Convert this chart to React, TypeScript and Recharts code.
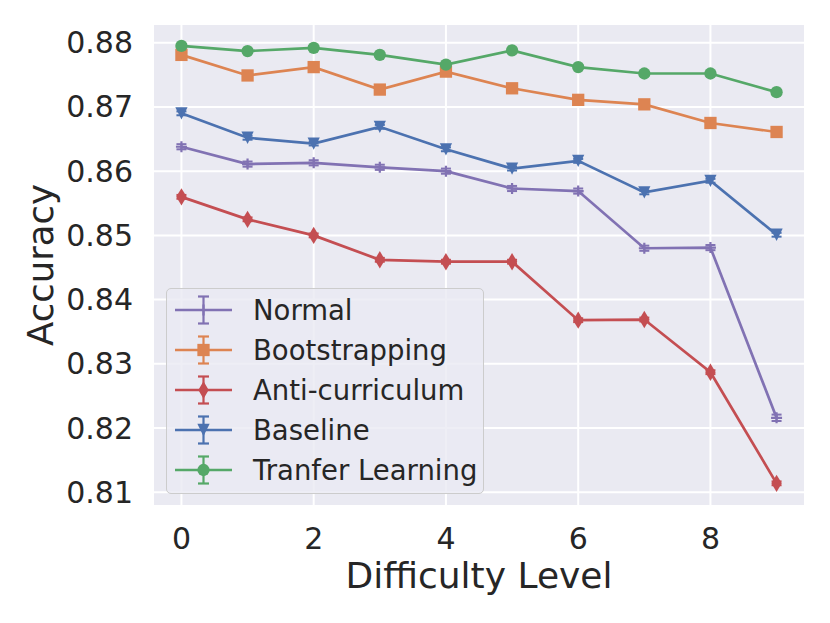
import React from 'react';
import { LineChart, Line, XAxis, YAxis, CartesianGrid, ErrorBar, Legend, Label } from 'recharts';

const levels = [0, 1, 2, 3, 4, 5, 6, 7, 8, 9];
const normal = [0.8638, 0.8611, 0.8613, 0.8606, 0.86, 0.8573, 0.8569, 0.848, 0.8481, 0.8216];
const bootstrapping = [0.8781, 0.8749, 0.8762, 0.8727, 0.8755, 0.8729, 0.8711, 0.8704, 0.8675, 0.8661];
const antiCurriculum = [0.856, 0.8525, 0.85, 0.8462, 0.8459, 0.8459, 0.8368, 0.8369, 0.8287, 0.8114];
const baseline = [0.869, 0.8652, 0.8643, 0.8669, 0.8634, 0.8604, 0.8616, 0.8567, 0.8585, 0.8501];
const transfer = [0.8795, 0.8787, 0.8792, 0.8781, 0.8766, 0.8788, 0.8762, 0.8752, 0.8752, 0.8723];
const errNormal = [0.0004, 0.0004, 0.0004, 0.0004, 0.0004, 0.0004, 0.0004, 0.0004, 0.0004, 0.0005];
const errOther = [0.0003, 0.0003, 0.0003, 0.0003, 0.0003, 0.0003, 0.0003, 0.0003, 0.0003, 0.0003];

const xTicks = [0, 2, 4, 6, 8];
const yTicks = [0.81, 0.82, 0.83, 0.84, 0.85, 0.86, 0.87, 0.88];

const seriesNames = ['Normal', 'Bootstrapping', 'Anti-curriculum', 'Baseline', 'Tranfer Learning'];
const seriesKeys = ['normal', 'bootstrapping', 'anti', 'baseline', 'transfer'];
const seriesColors = ['#8172B3', '#DD8452', '#C44E52', '#4C72B0', '#55A868'];
const seriesMarkers = ['plus', 'square', 'diamond', 'triangle', 'circle'];

const data = levels.map((lv, i) => ({
  level: lv,
  normal: normal[i],
  bootstrapping: bootstrapping[i],
  anti: antiCurriculum[i],
  baseline: baseline[i],
  transfer: transfer[i],
  normalErr: errNormal[i],
  bootstrappingErr: errOther[i],
  antiErr: errOther[i],
  baselineErr: errOther[i],
  transferErr: errOther[i],
}));

const FONT = '"DejaVu Sans", sans-serif';
const TEXT = '#262626';
const S = 12.3;

function Marker({ kind, cx, cy, color }: { kind: string; cx: number; cy: number; color: string }) {
  if (kind === 'plus') {
    const h = 5.5;
    return (
      <path d={`M${cx - h},${cy}H${cx + h}M${cx},${cy - h}V${cy + h}`} stroke={color} strokeWidth={2.2} fill="none" />
    );
  }
  if (kind === 'square') {
    return <rect x={cx - S / 2} y={cy - S / 2} width={S} height={S} fill={color} />;
  }
  if (kind === 'diamond') {
    const w = 0.6 * Math.SQRT2 * S / 2;
    const hh = Math.SQRT2 * S / 2;
    return <polygon points={`${cx},${cy - hh} ${cx + w},${cy} ${cx},${cy + hh} ${cx - w},${cy}`} fill={color} />;
  }
  if (kind === 'triangle') {
    const h = S / 2;
    return <polygon points={`${cx - h},${cy - h} ${cx + h},${cy - h} ${cx},${cy + h}`} fill={color} />;
  }
  return <circle cx={cx} cy={cy} r={S / 2} fill={color} />;
}

const makeDot = (kind: string, color: string, name: string) => (props: any) => {
  const { cx, cy, index } = props;
  if (cx == null || cy == null) return <g key={`${name}-${index}`} />;
  return (
    <g key={`${name}-${index}`}>
      <Marker kind={kind} cx={cx} cy={cy} color={color} />
    </g>
  );
};

const YTick = (props: any) => {
  const { y, payload } = props;
  return (
    <text x={133} y={y} textAnchor="end" dominantBaseline="central" fontFamily={FONT} fontSize={30} fill={TEXT}>
      {Number(payload.value).toFixed(2)}
    </text>
  );
};

const XTick = (props: any) => {
  const { x, payload } = props;
  return (
    <text x={x} y={549} textAnchor="middle" fontFamily={FONT} fontSize={30} fill={TEXT}>
      {payload.value}
    </text>
  );
};

const LegendContent = () => (
  <div
    style={{
      width: 318,
      height: 206,
      boxSizing: 'border-box',
      background: 'rgba(234,234,242,0.8)',
      border: '1.3px solid #cccccc',
      borderRadius: 5,
      paddingTop: 1,
      fontFamily: FONT,
    }}
  >
    {seriesNames.map((n, i) => (
      <div key={n} style={{ display: 'flex', alignItems: 'center', height: 40 }}>
        <svg width={86} height={40} style={{ display: 'block' }}>
          <line x1={8} y1={20} x2={65} y2={20} stroke={seriesColors[i]} strokeWidth={2.7} />
          <line x1={36.5} y1={6.5} x2={36.5} y2={33.5} stroke={seriesColors[i]} strokeWidth={2.2} />
          <line x1={31} y1={6.5} x2={42} y2={6.5} stroke={seriesColors[i]} strokeWidth={2.2} />
          <line x1={31} y1={33.5} x2={42} y2={33.5} stroke={seriesColors[i]} strokeWidth={2.2} />
          <Marker kind={seriesMarkers[i]} cx={36.5} cy={20} color={seriesColors[i]} />
        </svg>
        <span style={{ fontSize: 27.5, color: TEXT, whiteSpace: 'nowrap' }}>{n}</span>
      </div>
    ))}
  </div>
);

export default function App() {
  return (
    <div style={{ position: 'absolute', left: 0, top: 0, width: 830, height: 623, background: '#fff' }}>
      <LineChart width={830} height={623} data={data} margin={{ top: 24, right: 25, bottom: 0, left: 0 }}>
        <CartesianGrid fill="#EAEAF2" stroke="#ffffff" strokeWidth={2} />
        <XAxis
          dataKey="level"
          type="number"
          domain={[-0.43, 9.43]}
          ticks={xTicks}
          allowDataOverflow
          axisLine={false}
          tickLine={false}
          tickSize={0}
          height={117}
          tick={<XTick />}
          interval={0}
        >
          <Label
            content={() => (
              <text x={479} y={588} textAnchor="middle" fontFamily={FONT} fontSize={36} fill={TEXT}>
                Difficulty Level
              </text>
            )}
          />
        </XAxis>
        <YAxis
          type="number"
          domain={[0.80787, 0.88291]}
          ticks={yTicks}
          allowDataOverflow
          axisLine={false}
          tickLine={false}
          tickSize={0}
          width={153}
          tick={<YTick />}
          interval={0}
        >
          <Label
            content={() => (
              <text
                x={53}
                y={265}
                transform="rotate(-90, 53, 265)"
                textAnchor="middle"
                fontFamily={FONT}
                fontSize={35.5}
                fill={TEXT}
              >
                Accuracy
              </text>
            )}
          />
        </YAxis>
        {seriesKeys.map((k, i) => (
          <Line
            key={k}
            dataKey={k}
            name={seriesNames[i]}
            stroke={seriesColors[i]}
            strokeWidth={2.7}
            isAnimationActive={false}
            dot={makeDot(seriesMarkers[i], seriesColors[i], k)}
            activeDot={false}
          >
            <ErrorBar dataKey={`${k}Err`} width={5} strokeWidth={2} stroke={seriesColors[i]} direction="y" isAnimationActive={false} />
          </Line>
        ))}
        <Legend
          layout="vertical"
          align="center"
          verticalAlign="middle"
          content={<LegendContent />}
          wrapperStyle={{ left: 166, top: 288, width: 318, height: 206 }}
        />
      </LineChart>
    </div>
  );
}
